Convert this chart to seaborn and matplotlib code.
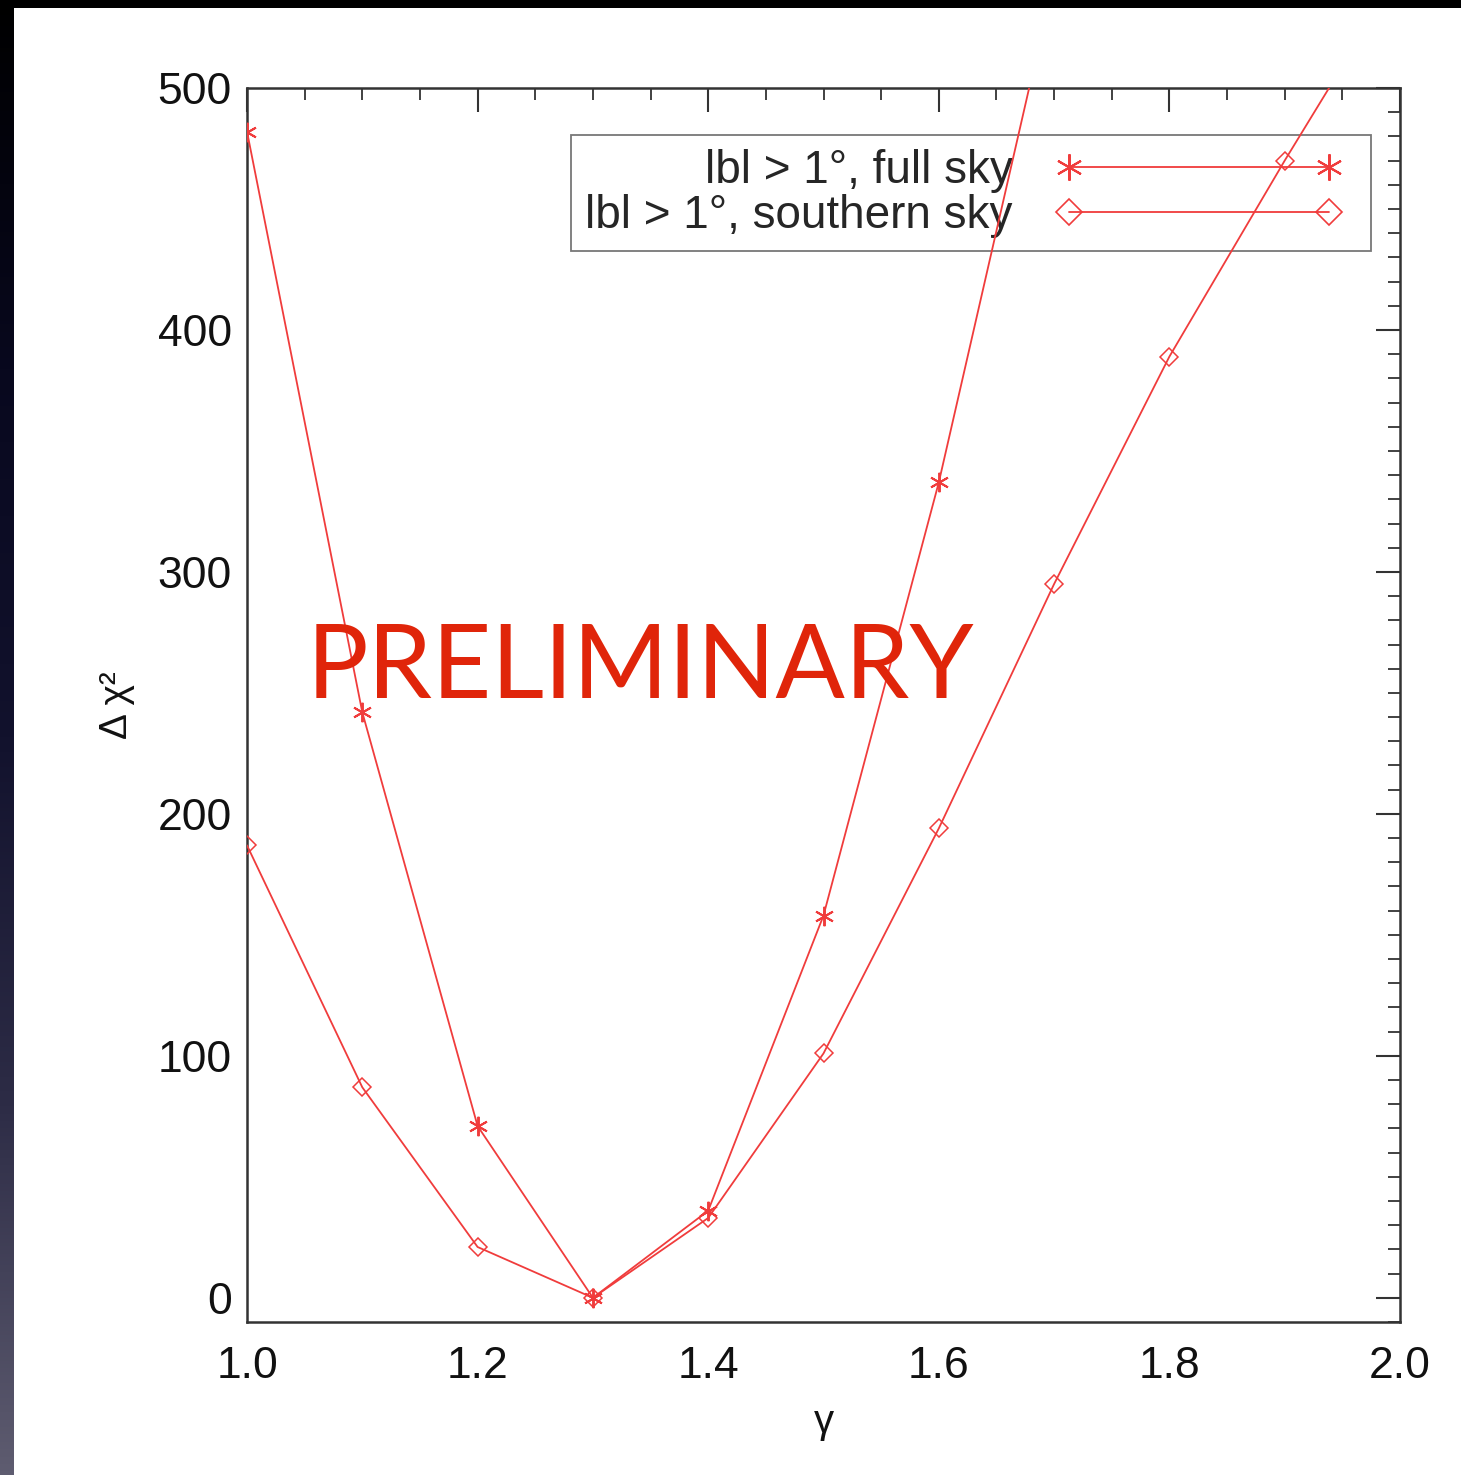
import numpy as np
import pandas as pd
import seaborn as sns
import matplotlib
matplotlib.use("Agg")
import matplotlib.pyplot as plt
from matplotlib.lines import Line2D
from matplotlib.patches import Rectangle
from matplotlib.ticker import MultipleLocator
from matplotlib.legend_handler import HandlerLine2D

# data
gamma_full = [1.0, 1.1, 1.2, 1.3, 1.4, 1.5, 1.6, 1.7]
chi2_full = [482, 242, 71, 0, 36, 158, 337, 545]

gamma_south = [1.0, 1.1, 1.2, 1.3, 1.4, 1.5, 1.6, 1.7, 1.8, 1.9, 2.0]
chi2_south = [187, 87, 21, 0, 33, 101, 194, 295, 389, 470, 548]

labels = ["lbl > 1°, full sky", "lbl > 1°, southern sky"]

RED = "#f03c3c"
AXC = "#333333"
ASTER = (6, 2, 0)

sns.set_style("white")
plt.rcParams["font.family"] = ["Liberation Sans", "DejaVu Sans"]

fig = plt.figure(figsize=(14.61, 14.75), dpi=100)
fig.patch.set_facecolor("black")

# dark slide border: gradient strip on the left, white panel
W, H = 1461, 1475
strip = fig.add_axes([0, 0, 14 / W, 1])
grad = np.array([[0, 0, 0], [8, 8, 30], [18, 18, 45], [45, 44, 70], [94, 92, 112]]) / 255
pos = np.linspace(0, 1, len(grad))
t = np.linspace(0, 1, 400)
img = np.stack([np.interp(t, pos, grad[:, k]) for k in range(3)], axis=-1)[:, None, :]
strip.imshow(img, aspect="auto", extent=(0, 1, 0, 1), origin="upper")
strip.set_axis_off()
fig.patches.append(Rectangle((14 / W, 0), 1, 1 - 8 / H, transform=fig.transFigure,
                             facecolor="white", edgecolor="none", zorder=-1))

ax = fig.add_axes([247 / W, 1 - 1322 / H, (1400 - 247) / W, (1322 - 88) / H])
ax.set_facecolor("white")

df_full = pd.DataFrame({"gamma": gamma_full, "chi2": chi2_full})
df_south = pd.DataFrame({"gamma": gamma_south, "chi2": chi2_south})

sns.lineplot(data=df_full, x="gamma", y="chi2", ax=ax, color=RED, lw=1.3,
             marker=ASTER, markersize=14, markeredgecolor=RED, markeredgewidth=1.4,
             estimator=None, zorder=3)
sns.lineplot(data=df_south, x="gamma", y="chi2", ax=ax, color=RED, lw=1.3,
             marker="D", markersize=9, markeredgecolor=RED, markerfacecolor="none",
             markeredgewidth=1.1, estimator=None, zorder=3)

ax.set_xlim(1.0, 2.0)
ax.set_ylim(-10, 500)
ax.xaxis.set_major_locator(MultipleLocator(0.2))
ax.xaxis.set_minor_locator(MultipleLocator(0.05))
ax.yaxis.set_major_locator(MultipleLocator(100))
ax.yaxis.set_minor_locator(MultipleLocator(10))
ax.xaxis.set_major_formatter(matplotlib.ticker.FormatStrFormatter("%.1f"))

ax.tick_params(which="both", direction="in", top=True, right=True, color=AXC,
               labelsize=32, labelcolor="#111111")
ax.tick_params(which="major", length=17, width=1.5)
ax.tick_params(which="minor", length=8.5, width=1.3)
ax.tick_params(axis="x", pad=17)
ax.tick_params(axis="y", pad=11)
for s in ax.spines.values():
    s.set_color(AXC)
    s.set_linewidth(1.8)

ax.set_xlabel("γ", fontsize=29, labelpad=12, color="#111111")
ax.set_ylabel("Δ χ²", fontsize=28, labelpad=16, color="#111111")

handles = [
    Line2D([], [], color=RED, lw=1.3, marker=ASTER, markersize=19,
           markeredgecolor=RED, markeredgewidth=1.5),
    Line2D([], [], color=RED, lw=1.3, marker="D", markersize=13,
           markeredgecolor=RED, markerfacecolor="none", markeredgewidth=1.2),
]
leg = ax.legend(handles, labels, loc="upper right", bbox_to_anchor=(0.9748, 0.9619),
                borderaxespad=0, fontsize=33, markerfirst=False, numpoints=2,
                handlelength=6.9, handletextpad=0.62, labelspacing=0.02,
                borderpad=0.3, fancybox=False, frameon=True,
                handler_map={Line2D: HandlerLine2D(marker_pad=0.62)})
leg.get_frame().set_edgecolor("#555555")
leg.get_frame().set_linewidth(1.3)
leg.set_zorder(1)

ax.text(1.052, 248, "PRELIMINARY", fontsize=74, color="#e0250a",
        family=["Lato", "DejaVu Sans"], ha="left", va="baseline", zorder=4)

fig.savefig("out.png", dpi=100, facecolor=fig.get_facecolor())
